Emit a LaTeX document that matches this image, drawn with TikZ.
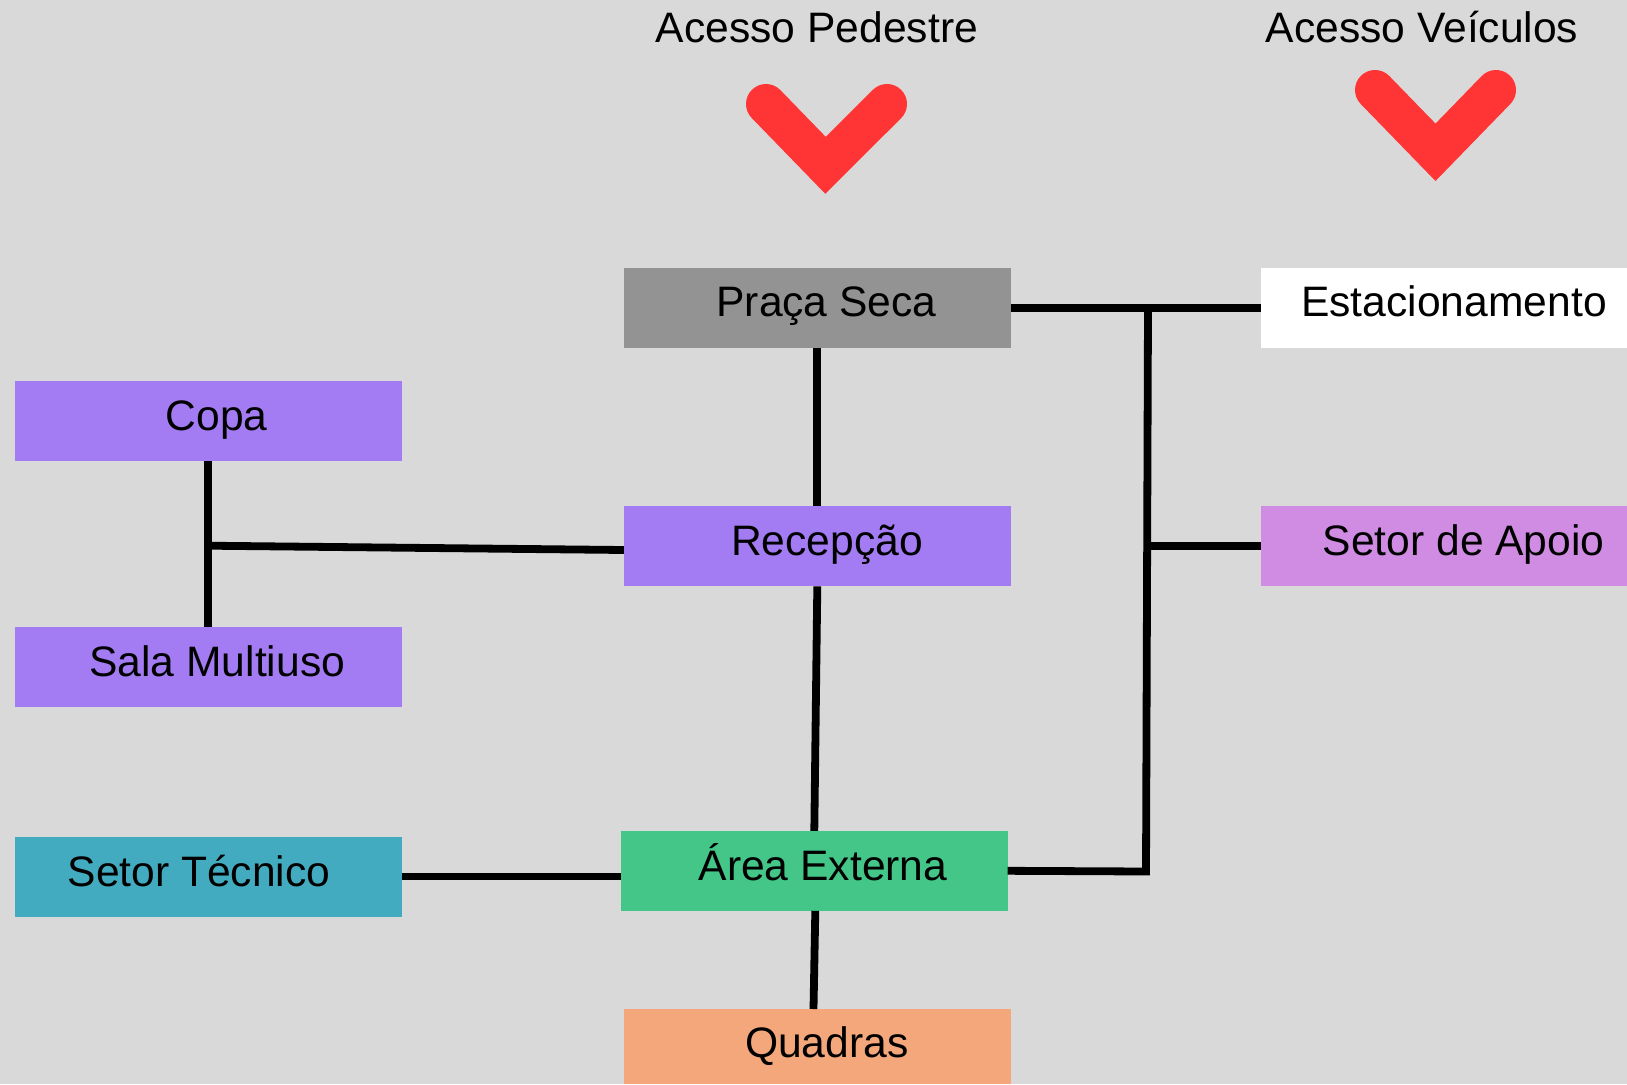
\documentclass[tikz,border=0pt]{standalone}
\usepackage{fontspec}
\setmainfont{Liberation Sans}
\definecolor{bgc}{HTML}{D9D9D9}
\definecolor{grayc}{HTML}{939393}
\definecolor{purplec}{HTML}{A37BF2}
\definecolor{pinkc}{HTML}{D08CE3}
\definecolor{greenc}{HTML}{43C688}
\definecolor{tealc}{HTML}{43ABBF}
\definecolor{orangec}{HTML}{F3A77A}
\definecolor{redc}{HTML}{FF3535}
\tikzset{
  box/.style={draw=none, inner sep=0pt, outer sep=0pt, minimum height=80pt},
  lbl/.style={inner sep=0pt, anchor=base, font=\fontsize{42.6}{50}\selectfont},
  hdr/.style={inner sep=0pt, anchor=base, font=\fontsize{42.6}{50}\selectfont},
  conn/.style={line width=7.8pt, black},
  chev/.style={line width=40pt, redc, line cap=round, line join=miter}
}
\begin{document}
\begin{tikzpicture}[x=1pt, y=-1pt]
\useasboundingbox[fill=bgc] (0,0) rectangle (1627,1084);

% boxes
\node[box, fill=grayc,   minimum width=386.7pt] (praca)   at (817.3,307.7) {};
\node[box, fill=purplec, minimum width=386.7pt] (recep)   at (817.3,546.3) {};
\node[box, fill=greenc,  minimum width=386.7pt] (area)    at (814.3,870.8) {};
\node[box, fill=orangec, minimum width=387pt, minimum height=75pt] (quadras) at (817.5,1046.5) {};
\node[box, fill=purplec, minimum width=387pt] (copa)    at (208.5,420.8) {};
\node[box, fill=purplec, minimum width=387pt] (sala)    at (208.5,666.8) {};
\node[box, fill=tealc,   minimum width=387pt] (tecnico) at (208.5,876.5) {};
\node[box, fill=white,   minimum width=366pt] (estac)   at (1444,307.7) {};
\node[box, fill=pinkc,   minimum width=366pt] (apoio)   at (1444,546) {};

% labels
\node[lbl] (tpraca)   at (826.5,316.7)  {Praça Seca};
\node[lbl] (trecep)   at (827,555.4)    {Recepção};
\node[lbl] (tarea)    at (823,880)      {Área Externa};
\node[lbl] (tquadras) at (826.7,1057.5) {Quadras};
\node[lbl] (tcopa)    at (216.7,430.5)  {Copa};
\node[lbl] (tsala)    at (217.3,676)    {Sala Multiuso};
\node[lbl] (ttecnico) at (199,886)      {Setor Técnico};
\node[lbl] (testac)   at (1454,316.7)   {Estacionamento};
\node[lbl] (tapoio)   at (1463.6,555)   {Setor de Apoio};

% headers
\node[hdr] (hped) at (817,42.7)  {Acesso Pedestre};
\node[hdr] (hvei) at (1422,42.7) {Acesso Veículos};

% chevrons
\draw[chev] (766,104) -- (825.5,165.3) -- (887,104);
\draw[chev] (1375,90) -- (1435.5,152.3) -- (1496,90);

% junction points
\coordinate (jL) at (208,545.7);
\coordinate (jT) at (1148,307.7);
\coordinate (jM) at (1147.3,546);
\coordinate (jB) at (1146,871.5);

% connectors
\draw[conn] (praca.south) -- (recep.north);
\draw[conn] (recep.south) -- (area.north);
\draw[conn] ([xshift=1pt]area.south) -- ([xshift=-4pt]quadras.north);
\draw[conn] (tecnico.east) -- (area.west |- tecnico.east);
\draw[conn] ([xshift=-0.5pt]copa.south) -- ([xshift=-0.5pt]sala.north);
\draw[conn] (jL) -- ([yshift=-3.7pt]recep.west);
\draw[conn] (praca.east) -- (estac.west);
\draw[conn] (area.east) -- (jB) -- (jT);
\draw[conn] (jM) -- (apoio.west);
\end{tikzpicture}
\end{document}
